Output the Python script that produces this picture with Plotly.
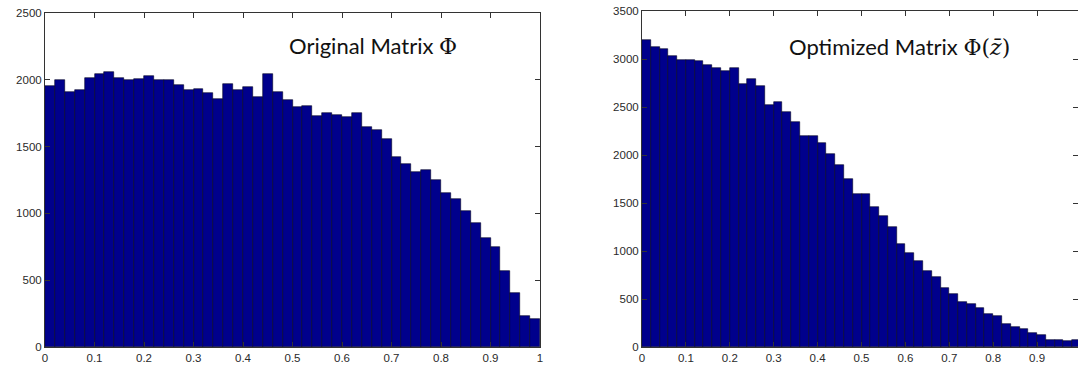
import plotly.graph_objects as go

# Bin centres (50 bins of width 0.02 on [0, 1])
bin_centers = [round(0.01 + 0.02 * i, 2) for i in range(50)]
bin_width = 0.02

original_counts = [1955, 1995, 1905, 1920, 2010, 2040, 2055, 2010, 2000, 2005,
                   2030, 1995, 2000, 1960, 1920, 1930, 1900, 1855, 1968, 1925,
                   1945, 1875, 2045, 1912, 1848, 1797, 1805, 1730, 1752, 1735,
                   1720, 1752, 1650, 1625, 1555, 1420, 1368, 1310, 1325, 1250,
                   1155, 1105, 1020, 925, 815, 750, 570, 405, 235, 210]

optimized_counts = [3198, 3125, 3104, 3035, 2993, 2993, 2975, 2938, 2908, 2880,
                    2910, 2736, 2788, 2715, 2521, 2552, 2448, 2342, 2194, 2202,
                    2130, 2006, 1894, 1746, 1592, 1592, 1460, 1366, 1250, 1076,
                    983, 900, 792, 729, 618, 556, 470, 448, 410, 340,
                    326, 236, 208, 187, 146, 122, 76, 76, 62, 76]

x_ticks = [0, 0.1, 0.2, 0.3, 0.4, 0.5, 0.6, 0.7, 0.8, 0.9, 1]
x_tick_text = ["0", "0.1", "0.2", "0.3", "0.4", "0.5", "0.6", "0.7", "0.8", "0.9", "1"]
y1_ticks = [0, 500, 1000, 1500, 2000, 2500]
y2_ticks = [0, 500, 1000, 1500, 2000, 2500, 3000, 3500]

SERIF = "font-family:'DejaVu Serif', serif"
label_left = "Original Matrix <span style=\"%s\">Φ</span>" % SERIF
label_right = "Optimized Matrix <span style=\"%s\">Φ(<i>z̄</i>)</span>" % SERIF

W, H = 1078, 371
BAR_FILL = "#00008c"

fig = go.Figure()
fig.add_trace(go.Bar(x=bin_centers, y=original_counts, width=bin_width,
                     marker=dict(color=BAR_FILL, line=dict(color="#000022", width=0.6)),
                     xaxis="x", yaxis="y", showlegend=False))
fig.add_trace(go.Bar(x=bin_centers, y=optimized_counts, width=bin_width,
                     marker=dict(color=BAR_FILL, line=dict(color="#000022", width=0.6)),
                     xaxis="x2", yaxis="y2", showlegend=False))

tick_font = dict(family="Liberation Sans, Arial, sans-serif", size=11.5, color="#2a2a2a")
common_axis = dict(showline=True, linecolor="#333333", linewidth=1, mirror="ticks",
                   ticks="inside", ticklen=5, tickcolor="#333333", showgrid=False,
                   zeroline=False, tickfont=tick_font, automargin=False)

# pixel geometry -> paper fractions
lx0, lx1 = 45, 540
rx0 = 642
ly_top, ly_bot = 13, 347
ry_top = 11
px_per_unit_right = 439.0
right_max = (W - rx0) / px_per_unit_right

fig.update_layout(
    width=W, height=H,
    margin=dict(l=0, r=0, t=0, b=0),
    paper_bgcolor="white", plot_bgcolor="white",
    bargap=0,
    xaxis=dict(domain=[lx0 / W, lx1 / W], range=[0, 1], tickvals=x_ticks,
               ticktext=x_tick_text, anchor="y", **common_axis),
    yaxis=dict(domain=[(H - ly_bot) / H, (H - ly_top) / H], range=[0, 2500],
               tickvals=y1_ticks, anchor="x", **common_axis),
    xaxis2=dict(domain=[rx0 / W, 1.0], range=[0, right_max], tickvals=x_ticks,
                ticktext=x_tick_text, anchor="y2", **common_axis),
    yaxis2=dict(domain=[(H - ly_bot) / H, (H - ry_top) / H], range=[0, 3500],
                tickvals=y2_ticks, anchor="x2", **common_axis),
    annotations=[
        dict(text=label_left, xref="paper", yref="paper",
             x=287 / W, y=(H - 45) / H, xanchor="left", yanchor="middle",
             showarrow=False, font=dict(family="Lato, sans-serif", size=22, color="#111111")),
        dict(text=label_right, xref="paper", yref="paper",
             x=787 / W, y=(H - 47) / H, xanchor="left", yanchor="middle",
             showarrow=False, font=dict(family="Lato, sans-serif", size=22, color="#111111")),
    ],
)

fig.write_html("out.html")
